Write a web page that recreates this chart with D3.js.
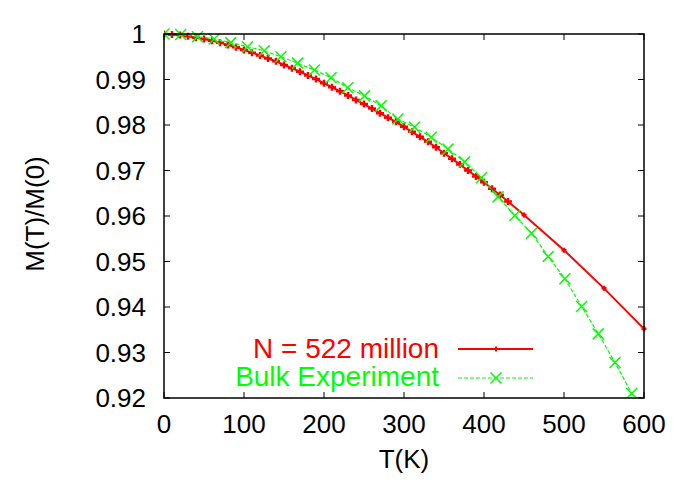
<!DOCTYPE html>
<html>
<head>
<meta charset="utf-8">
<script src="https://cdn.jsdelivr.net/npm/d3@7"></script>
<style>
  body { margin: 0; background: #fff; }
  text { font-family: "Liberation Sans", Arial, Helvetica, sans-serif; }
</style>
</head>
<body>
<svg id="chart"></svg>
<script>
let width = 692,
    height = 485;

// simulation, N = 522 million (dense run below 430 K, then a few points)
let simT = [0, 10, 20, 30, 40, 50, 60, 70, 80, 90, 100, 110, 120, 130, 140, 150,
    160, 170, 180, 190, 200, 210, 220, 230, 240, 250, 260, 270, 280, 290, 300,
    310, 320, 330, 340, 350, 360, 370, 380, 390, 400, 410, 420, 430, 450, 500, 550, 600];
let simM = [1.0, 0.9999, 0.9998, 0.9995, 0.9992, 0.9989, 0.9985, 0.9981, 0.9976, 0.9971,
    0.9965, 0.9959, 0.9953, 0.9946, 0.9940, 0.9932, 0.9925, 0.9917, 0.9909, 0.9901,
    0.9892, 0.9883, 0.9874, 0.9865, 0.9855, 0.9846, 0.9836, 0.9826, 0.9816, 0.9807,
    0.9796, 0.9785, 0.9774, 0.9763, 0.9751, 0.9738, 0.9726, 0.9713, 0.9700, 0.9687,
    0.9674, 0.9660, 0.9646, 0.9632, 0.9602, 0.9525, 0.9441, 0.9352];

// bulk experiment
let expT = [0, 20.88, 41.76, 62.64, 83.52, 104.4, 125.28, 146.16, 167.04, 187.92,
    208.8, 229.68, 250.56, 271.44, 292.32, 313.2, 334.08, 354.96, 375.84, 396.72,
    417.6, 438.48, 459.36, 480.24, 501.12, 522, 542.88, 563.76, 584.64];
let expM = [1.0, 0.9999, 0.9994, 0.9989, 0.9981, 0.9972, 0.9963, 0.9950, 0.9936, 0.9921,
    0.9904, 0.9882, 0.9864, 0.9842, 0.9813, 0.9795, 0.9773, 0.9747, 0.9719, 0.9684,
    0.9642, 0.9601, 0.9562, 0.9511, 0.9462, 0.9401, 0.9341, 0.9278, 0.9210];

let xTicks = [0, 100, 200, 300, 400, 500, 600];
let yTicks = [0.92, 0.93, 0.94, 0.95, 0.96, 0.97, 0.98, 0.99, 1];
let legendText = ["N = 522 million", "Bulk Experiment"];

let pLeft = 164, pRight = 644, pTop = 34, pBottom = 398;

let x = d3.scaleLinear().domain([0, 600]).range([pLeft, pRight]);
let y = d3.scaleLinear().domain([0.92, 1]).range([pBottom, pTop]);

let svg = d3.select('#chart')
    .attr('width', width)
    .attr('height', height);

let sim = simT.map(function(t, i) { return [t, simM[i]]; });
let exp = expT.map(function(t, i) { return [t, expM[i]]; });

let line = d3.line()
    .x(function(d) { return x(d[0]); })
    .y(function(d) { return y(d[1]); });

// clip to the frame
svg.append('clipPath').attr('id', 'clip')
    .append('rect')
    .attr('x', pLeft).attr('y', pTop - 6)
    .attr('width', pRight - pLeft + 6).attr('height', pBottom - pTop + 6);

let plot = svg.append('g').attr('clip-path', 'url(#clip)');

// red curve
plot.append('path')
    .attr('d', line(sim))
    .style('fill', 'none')
    .style('stroke', '#ff0000')
    .style('stroke-width', 2);

plot.selectAll('.sim')
    .data(sim)
    .enter()
    .append('path')
    .attr('class', 'sim')
    .attr('transform', function(d) { return 'translate(' + x(d[0]) + ',' + y(d[1]) + ')'; })
    .attr('d', function(d) { return d[0] > 440 ? 'M-2.5,0H2.5M0,-2.5V2.5' : 'M-4,0H4M0,-3.5V3.5'; })
    .style('stroke', '#ff0000')
    .style('stroke-width', 2.5);

// green curve
plot.append('path')
    .attr('d', line(exp))
    .style('fill', 'none')
    .style('stroke', '#00ff00')
    .style('stroke-width', 1.2)
    .style('stroke-dasharray', '4,2');

plot.selectAll('.exp')
    .data(exp)
    .enter()
    .append('path')
    .attr('class', 'exp')
    .attr('transform', function(d) { return 'translate(' + x(d[0]) + ',' + y(d[1]) + ')'; })
    .attr('d', 'M-5.5,-5.5L5.5,5.5M-5.5,5.5L5.5,-5.5')
    .style('stroke', '#00ff00')
    .style('stroke-width', 1.5);

// frame and ticks (mirrored, inward)
let axes = svg.append('g').style('stroke', '#000').style('stroke-width', 1);

xTicks.forEach(function(t) {
    axes.append('line').attr('x1', x(t)).attr('x2', x(t)).attr('y1', pBottom).attr('y2', pBottom - 6);
    axes.append('line').attr('x1', x(t)).attr('x2', x(t)).attr('y1', pTop).attr('y2', pTop + 6);
});
yTicks.forEach(function(t) {
    axes.append('line').attr('y1', y(t)).attr('y2', y(t)).attr('x1', pLeft).attr('x2', pLeft + 6);
    axes.append('line').attr('y1', y(t)).attr('y2', y(t)).attr('x1', pRight).attr('x2', pRight - 6);
});

axes.append('rect')
    .attr('x', pLeft).attr('y', pTop)
    .attr('width', pRight - pLeft).attr('height', pBottom - pTop)
    .style('fill', 'none')
    .style('stroke-width', 1.5);

// tick labels
svg.selectAll('.xlab')
    .data(xTicks)
    .enter()
    .append('text')
    .attr('x', function(d) { return x(d); })
    .attr('y', 433)
    .attr('text-anchor', 'middle')
    .style('font-size', '26px')
    .text(function(d) { return d; });

svg.selectAll('.ylab')
    .data(yTicks)
    .enter()
    .append('text')
    .attr('x', 146)
    .attr('y', function(d) { return y(d); })
    .attr('dy', '0.35em')
    .attr('text-anchor', 'end')
    .style('font-size', '26px')
    .text(function(d) { return d; });

// axis titles
svg.append('text')
    .attr('x', 404)
    .attr('y', 468)
    .attr('text-anchor', 'middle')
    .style('font-size', '26px')
    .text('T(K)');

svg.append('text')
    .attr('transform', 'translate(44,214) rotate(-90)')
    .attr('text-anchor', 'middle')
    .style('font-size', '26px')
    .text('M(T)/M(0)');

// legend
let legend = svg.append('g');

legend.append('text')
    .attr('x', 439).attr('y', 358)
    .attr('text-anchor', 'end')
    .style('font-size', '28px')
    .style('fill', '#ff0000')
    .text(legendText[0]);

legend.append('line')
    .attr('x1', 458).attr('x2', 533).attr('y1', 349).attr('y2', 349)
    .style('stroke', '#ff0000').style('stroke-width', 2);

legend.append('path')
    .attr('transform', 'translate(496,349)')
    .attr('d', 'M-2.5,0H2.5M0,-2.5V2.5')
    .style('stroke', '#ff0000').style('stroke-width', 2);

legend.append('text')
    .attr('x', 439).attr('y', 386)
    .attr('text-anchor', 'end')
    .style('font-size', '28px')
    .style('fill', '#00ff00')
    .text(legendText[1]);

legend.append('line')
    .attr('x1', 458).attr('x2', 533).attr('y1', 378).attr('y2', 378)
    .style('stroke', '#00ff00').style('stroke-width', 1.2)
    .style('stroke-dasharray', '4,2');

legend.append('path')
    .attr('transform', 'translate(496,378)')
    .attr('d', 'M-5.5,-5.5L5.5,5.5M-5.5,5.5L5.5,-5.5')
    .style('stroke', '#00ff00').style('stroke-width', 1.5);
</script>
</body>
</html>
